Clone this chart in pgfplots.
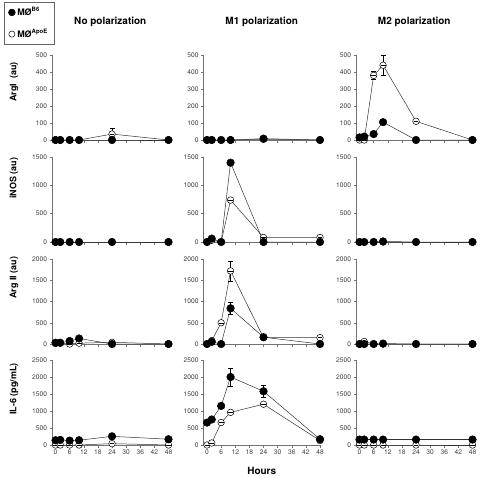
\documentclass[border=0pt]{standalone}
\usepackage{pgfplots}
\pgfplotsset{compat=1.18}
\usepackage{fontspec}
\setmainfont{TeX Gyre Heros}

\newcommand{\legB}{MØ\textsuperscript{B6}}
\newcommand{\legA}{MØ\textsuperscript{ApoE}}

\pgfdeclareplotmark{ominus}{%
  \pgfpathcircle{\pgfpointorigin}{\pgfplotmarksize}%
  \pgfusepathqfillstroke
  \pgfpathmoveto{\pgfpoint{-0.75\pgfplotmarksize}{0pt}}%
  \pgfpathlineto{\pgfpoint{0.75\pgfplotmarksize}{0pt}}%
  \pgfusepathqstroke}

\pgfplotsset{
 pan/.style={
  scale only axis, width=116.5bp, height=85bp,
  axis lines=left, axis line style={-, draw=black!55, line width=0.5bp},
  xmin=-1.5, xmax=48, ymin=0, clip=false,
  xtick={0,6,...,48},
  tick align=outside, major tick length=2.5bp,
  tick style={draw=black!55, line width=0.5bp},
  ticklabel style={font=\fontsize{6.7}{7}\selectfont, text=black!75},
  yticklabel style={xshift=1bp},
  xticklabel style={yshift=1bp},
  /pgf/number format/assume math mode=true,
  /pgf/number format/1000 sep={},
  xticklabels={},
  scaled y ticks=false,
  title style={font=\bfseries\fontsize{10}{12}\selectfont, at={(axis description cs:0.5,1)}, anchor=center, yshift=27bp},
  xlabel style={font=\bfseries\fontsize{10}{12}\selectfont, at={(axis description cs:0.5,0)}, anchor=center, yshift=-26bp},
 },
 ylab/.style 2 args={ylabel={#1}, every axis y label/.style={at={(axis description cs:-0.326,#2)}, rotate=90, anchor=center, font=\bfseries\fontsize{9}{10}\selectfont}},
 legimg/.style={legend image code/.code={\draw[##1] plot coordinates {(0.1cm,0cm)};}},
 b6/.style={draw=black!80, line width=0.5bp, mark=*, mark size=3.8bp, mark options={fill=black, draw=black, solid}},
 apoe/.style={draw=black!80, line width=0.5bp, mark=ominus, mark size=3.3bp, mark options={fill=white, draw=black, line width=0.5bp}},
 errb/.style={draw=none, mark=none, forget plot, error bars/.cd, y dir=both, y explicit, error bar style={draw=black, line width=0.5bp}, error mark options={draw=black, mark size=2.5bp, rotate=90}},
}

% #1 x, #2 ybottom, #3 ymax, #4 step, #5 B6, #6 ApoE, #7 options, #8 extra body
\newcommand{\panel}[8]{%
\begin{axis}[pan, at={(#1bp,-#2bp)}, anchor=south west, ymax=#3, ytick={0,#4,...,#3}, #7]
#8
\addplot[apoe, forget plot] coordinates {#6};
\addplot[b6, forget plot] coordinates {#5};
\addplot[errb] coordinates {#6};
\addplot[errb] coordinates {#5};
\end{axis}}

\begin{document}
\begin{tikzpicture}
\path[use as bounding box] (0,0) rectangle (483bp,-478bp);

% ---------- Row 1: ArgI ----------
\panel{52}{140}{500}{100}
 {(0,0)(2,0)(6,0)(10,0)(24,0)(48,0)}
 {(0,0)(2,0)(6,0)(10,0)(24,35)+-(0,35)(48,0)}
 {title={No polarization}, ylab={ArgI\ \ (au)}{0.68},
  legend style={at={(axis description cs:-0.41,1.625)}, anchor=north west, draw=black!60, line width=0.5bp,
   font=\bfseries\fontsize{9}{10}\selectfont, row sep=8bp, inner ysep=3.5bp, inner xsep=4bp},
  legend cell align=left, legimg}
 {\addlegendimage{b6, mark size=3.4bp}\addlegendentry{\legB}
  \addlegendimage{apoe, mark=*, mark size=3.1bp}\addlegendentry{\legA\hspace{2bp}}}
\panel{203.5}{140}{500}{100}
 {(0,0)(2,0)(6,0)(10,0)(24,8)(48,0)}
 {(0,0)(2,0)(6,0)(10,0)(24,4)(48,0)}
 {title={M1 polarization}}{}
\panel{356}{140}{500}{100}
 {(0,15)(2,20)(6,35)(10,105)(24,0)(48,0)}
 {(0,0)(2,0)(6,380)+-(0,25)(10,440)+-(0,60)(24,110)(48,0)}
 {title={M2 polarization}}{}

% ---------- Row 2: iNOS ----------
\panel{52}{242}{1500}{500}
 {(0,0)(2,0)(6,0)(10,0)(24,0)(48,0)}
 {(0,0)(2,0)(6,0)(10,0)(24,0)(48,0)}
 {ylab={iNOS (au)}{0.75}}{}
\panel{203.5}{242}{1500}{500}
 {(0,0)(2,60)(6,0)(10,1400)(24,0)(48,0)}
 {(0,0)(2,30)(6,0)(10,740)+-(0,30)(24,80)(48,80)}
 {}{}
\panel{356}{242}{1500}{500}
 {(0,0)(2,0)(6,0)(10,10)(24,0)(48,0)}
 {(0,0)(2,0)(6,0)(10,0)(24,0)(48,0)}
 {}{}

% ---------- Row 3: Arg II ----------
\panel{52}{344}{2000}{500}
 {(0,30)(2,30)(6,70)(10,130)(24,0)(48,0)}
 {(0,10)(2,20)(6,0)(10,20)(24,40)(48,0)}
 {ylab={Arg II (au)}{0.78}}{}
\panel{203.5}{344}{2000}{500}
 {(0,0)(2,50)(6,0)(10,840)+-(0,150)(24,160)(48,0)}
 {(0,0)(2,80)(6,500)(10,1720)+-(0,240)(24,150)(48,150)}
 {}{}
\panel{356}{344}{2000}{500}
 {(0,0)(2,0)(6,0)(10,10)(24,0)(48,0)}
 {(0,0)(2,60)(6,0)(10,0)(24,0)(48,0)}
 {}{}

% ---------- Row 4: IL-6 ----------
\panel{52}{445}{2500}{500}
 {(0,140)(2,150)(6,130)(10,140)(24,255)(48,170)}
 {(0,0)(2,0)(6,0)(10,0)(24,40)(48,0)}
 {ylab={IL-6 (pg/mL)}{0.66}, xticklabels={0,6,12,18,24,30,36,42,48}}{}
\panel{203.5}{445}{2500}{500}
 {(0,660)(2,750)(6,1150)(10,2000)+-(0,260)(24,1580)+-(0,180)(48,170)}
 {(0,0)(2,60)(6,660)(10,960)(24,1200)(48,130)}
 {xticklabels={0,6,12,18,24,30,36,42,48}, xlabel={Hours}}{}
\panel{356}{445}{2500}{500}
 {(0,160)(2,160)(6,160)(10,160)(24,160)(48,160)}
 {(0,0)(2,0)(6,0)(10,0)(24,0)(48,0)}
 {xticklabels={0,6,12,18,24,30,36,42,48}}{}
\end{tikzpicture}
\end{document}
